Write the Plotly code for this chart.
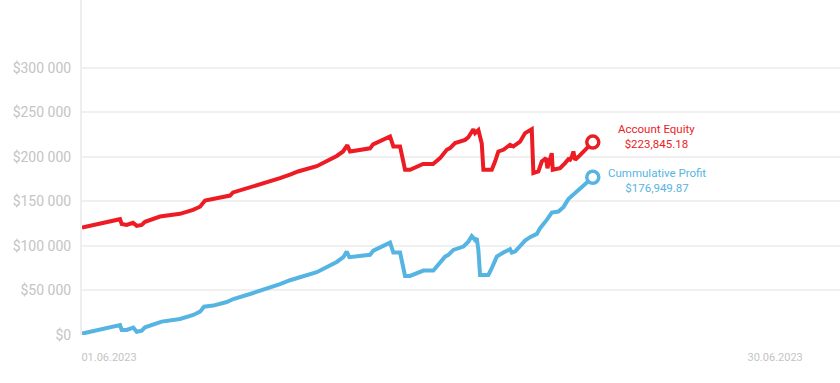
import pandas as pd
import plotly.graph_objects as go

# ---- data ----
start_date = "2023-06-01"

equity_days = [0.0, 1.655, 1.729, 1.946, 2.221, 2.382, 2.600, 2.743, 3.396, 3.688, 4.267, 4.833,
               5.138, 5.356, 5.704, 6.444, 6.575, 7.315, 7.881, 8.621, 9.057, 9.405, 10.219,
               11.090, 11.365, 11.552, 11.669, 12.540, 12.671, 13.411, 13.555, 13.847, 14.064,
               14.282, 14.848, 15.283, 15.588, 15.880, 16.024, 16.241, 16.677, 16.820, 17.038,
               17.112, 17.256, 17.404, 17.474, 17.839, 17.983, 18.127, 18.344, 18.636, 18.780,
               19.071, 19.289, 19.581, 19.651, 19.869, 20.017, 20.204, 20.261, 20.452, 20.495,
               20.813, 21.031, 21.175, 21.249, 21.323, 21.393, 21.467, 21.610, 21.828, 22.237]
equity_k = [120.5, 130.0, 124.7, 123.6, 126.0, 122.5, 123.6, 127.0, 133.0, 134.0, 136.0, 140.4,
            144.0, 151.0, 152.5, 156.5, 160.0, 165.5, 170.4, 176.0, 180.0, 183.5, 189.5,
            201.0, 206.0, 213.0, 206.0, 209.5, 214.0, 222.8, 211.6, 211.6, 185.4,
            185.4, 192.0, 192.0, 198.5, 207.9, 209.7, 215.4, 219.0, 222.0, 231.0,
            226.6, 230.0, 215.0, 185.4, 185.4, 194.7, 206.0, 207.9, 213.5, 211.6,
            217.0, 226.6, 231.0, 181.7, 183.5, 194.7, 198.5, 187.3, 204.0, 185.4,
            187.3, 193.0, 197.4, 196.6, 200.0, 206.0, 196.6, 200.0, 206.0, 216.5]

profit_days = [0.0, 1.655, 1.729, 1.946, 2.234, 2.382, 2.600, 2.743, 3.470, 3.758, 4.267, 4.846,
               5.138, 5.312, 5.717, 6.301, 6.588, 7.315, 7.894, 8.621, 9.057, 9.418, 10.219,
               11.090, 11.378, 11.526, 11.639, 12.540, 12.684, 13.411, 13.555, 13.847, 14.064,
               14.282, 14.861, 15.297, 15.514, 15.806, 15.950, 16.167, 16.603, 16.820, 16.968,
               17.112, 17.186, 17.256, 17.330, 17.691, 17.839, 18.057, 18.344, 18.636, 18.710,
               18.854, 19.289, 19.507, 19.799, 19.943, 20.234, 20.452, 20.739, 20.957, 21.175,
               21.393, 21.610, 21.828, 22.237]
profit_k = [1.5, 11.2, 5.6, 5.6, 8.2, 3.7, 4.9, 8.6, 15.0, 15.7, 18.0, 22.5,
            26.2, 31.8, 33.0, 37.0, 40.4, 46.0, 50.6, 57.0, 61.5, 64.5, 70.5,
            82.0, 87.3, 93.6, 87.3, 90.0, 94.7, 103.7, 92.5, 92.5, 66.3,
            66.3, 72.3, 72.3, 78.7, 88.0, 89.9, 95.5, 99.2, 104.8, 111.0,
            106.7, 108.7, 95.5, 67.4, 67.4, 74.9, 88.0, 92.5, 96.3, 92.5,
            93.6, 106.0, 109.8, 113.5, 119.9, 129.2, 137.4, 138.5, 143.5, 152.5,
            157.3, 162.0, 167.4, 176.95]

equity_label = ["Account Equity", "$223,845.18"]
profit_label = ["Cummulative Profit", "$176,949.87"]

y_tickvals = [0, 50000, 100000, 150000, 200000, 250000, 300000]
y_ticktext = ["$0", "$50 000", "$100 000", "$150 000", "$200 000", "$250 000", "$300 000"]
x_tickvals = ["2023-06-01", "2023-06-30"]
x_ticktext = ["01.06.2023", "30.06.2023"]

RED = "#ED1C24"
BLUE = "#56B4E3"

base = pd.Timestamp(start_date)
eq_x = base + pd.to_timedelta(equity_days, unit="D")
pr_x = base + pd.to_timedelta(profit_days, unit="D")
eq_y = [v * 1000 for v in equity_k]
pr_y = [v * 1000 for v in profit_k]

fig = go.Figure()
for xs, ys, col in [(eq_x, eq_y, RED), (pr_x, pr_y, BLUE)]:
    fig.add_trace(go.Scatter(x=xs, y=ys, mode="lines",
                             line=dict(color=col, width=4), hoverinfo="skip"))
    fig.add_trace(go.Scatter(x=[xs[-1]], y=[ys[-1]], mode="markers",
                             marker=dict(size=12, color="white", line=dict(color=col, width=3.5)),
                             hoverinfo="skip"))

fig.add_annotation(x=eq_x[-1], y=eq_y[-1], text="<br>".join(equity_label), showarrow=False,
                   xanchor="center", yanchor="middle", xshift=64, yshift=6,
                   font=dict(family="Roboto", size=11.5, color=RED))
fig.add_annotation(x=pr_x[-1], y=pr_y[-1], text="<br>".join(profit_label), showarrow=False,
                   xanchor="center", yanchor="middle", xshift=64, yshift=-3,
                   font=dict(family="Roboto", size=11.5, color=BLUE))

fig.update_layout(
    width=840, height=383,
    margin=dict(l=82, r=0, t=0, b=48),
    paper_bgcolor="white", plot_bgcolor="white",
    showlegend=False,
    font=dict(family="Roboto", color="#c4c4c4"),
)
fig.update_xaxes(
    type="date", range=["2023-06-01", "2023-07-04"],
    tickvals=x_tickvals, ticktext=x_ticktext,
    showgrid=False, zeroline=False, showline=False,
    ticks="", tickfont=dict(family="Roboto", size=11, color="#c4c4c4"),
    ticklabelshift=27, ticklabelstandoff=14,
)
fig.update_yaxes(
    range=[0, 376000], tickvals=y_tickvals, ticktext=y_ticktext,
    showgrid=True, gridcolor="#f0f0f0", gridwidth=2,
    zeroline=False, showline=True, linecolor="#eeeeee", linewidth=2,
    ticks="", tickfont=dict(family="Roboto", size=14, color="#c4c4c4"),
    ticklabelstandoff=6,
)

fig.write_html("out.html", config={"displayModeBar": False},
               post_script="document.body.style.margin='0';")
